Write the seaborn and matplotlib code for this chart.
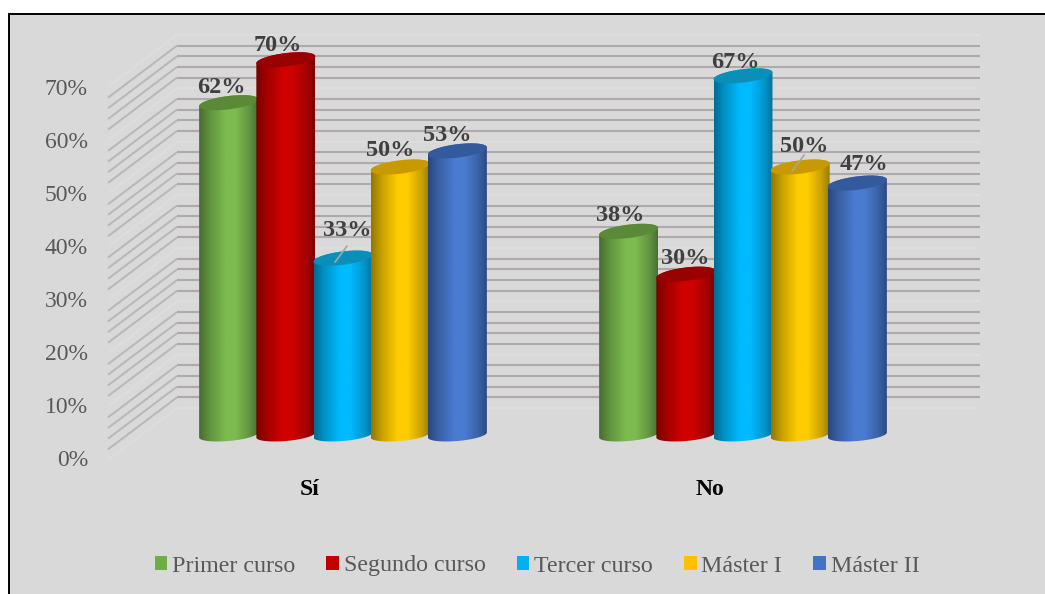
import numpy as np
import pandas as pd
import matplotlib
matplotlib.use("Agg")
import matplotlib.pyplot as plt
from matplotlib.patches import Rectangle, Polygon
from matplotlib.colors import to_rgb
import seaborn as sns

categories = ["Sí", "No"]
courses = ["Primer curso", "Segundo curso", "Tercer curso", "Máster I", "Máster II"]
si_values = [62, 70, 33, 50, 53]
no_values = [38, 30, 67, 50, 47]
colors = ["#70AD47", "#C00000", "#00B0F0", "#FFC000", "#4472C4"]
bright = ["#7CBB50", "#CF0000", "#00BBFF", "#FFCC00", "#4A7BD2"]
tops = ["#5A8A38", "#990000", "#0A8FB8", "#C99A00", "#325A9C"]
tick_values = [0, 10, 20, 30, 40, 50, 60, 70]
tick_labels = ["0%", "10%", "20%", "30%", "40%", "50%", "60%", "70%"]
# label offsets from the bar top centre (pixels), per category and course
label_dx = [[-7, -8, 4, -10, -10], [-8, -1, -8, 4, 7]]
label_dy = [[15, 14, 28, 16, 15], [16, 16, 13, 20, 19]]

W, H = 1045, 594
plt.rcParams["font.family"] = ["Liberation Serif", "DejaVu Serif"]
fig = plt.figure(figsize=(W / 100, H / 100), dpi=100, facecolor="white")
fig.add_artist(Rectangle((8.5 / W, -0.01), 1.02, 1.01 - 13.5 / H, transform=fig.transFigure,
                         facecolor="#D9D9D9", edgecolor="black", linewidth=1.4, zorder=-5))


def axes_px(left, right, top, bottom):
    return fig.add_axes([left / W, 1 - bottom / H, (right - left) / W, (bottom - top) / H])


# back wall and side wall
wall = axes_px(177, 980, 35, 408)
wall.set_xlim(0, 1)
wall.set_ylim(0, 70)
wall.patch.set_alpha(0)
for s in wall.spines.values():
    s.set_visible(False)
wall.set_xticks([])
wall.set_yticks([])
depth_x = -69 / 803
depth_y = -52 / (373 / 70)
for v in range(0, 71, 2):
    major = v % 10 == 0
    back = "#DDDDDD" if major else "#AFA9A9"
    side = "#DDDDDD" if major else "#BAB6B6"
    wall.plot([depth_x, 0], [v + depth_y, v], color=side, lw=1.4, clip_on=False,
              solid_capstyle="butt", zorder=1)
    wall.plot([0, 1], [v, v], color=back, lw=1.5, clip_on=False,
              solid_capstyle="butt", zorder=1)

# front axis labels
front = axes_px(88, 980, 87, 458)
front.patch.set_alpha(0)
front.set_xticks([])
front.set_ylim(0, 70)
front.set_yticks(tick_values)
front.set_yticklabels(tick_labels, fontsize=17, color="#595959")
front.tick_params(axis="y", length=0, pad=0)
for s in front.spines.values():
    s.set_visible(False)

# bars
px_per = 5.36
ax = axes_px(177, 980, 35, 435)
ax.patch.set_alpha(0)
df = pd.DataFrame({
    "grupo": [c for c in categories for _ in courses],
    "curso": courses * 2,
    "valor": si_values + no_values,
})
sns.barplot(data=df, x="grupo", y="valor", hue="curso", order=categories, hue_order=courses,
            palette=colors, width=0.715, gap=0, dodge=True, saturation=1, ax=ax)
xlim = (-166 / 400, (980 - 343) / 400)
ylim = (0, 400 / px_per)
ax.set_xlabel("")
ax.set_ylabel("")
ax.set_yticks([])
for s in ax.spines.values():
    s.set_visible(False)
# category labels sit left of the bar clusters, as in the perspective projection
ax.set_xticks([i - 33 / 400 for i in range(len(categories))], categories)
ax.tick_params(axis="x", length=0, pad=32)
for lbl in ax.get_xticklabels():
    lbl.set_fontsize(17)
    lbl.set_fontweight("bold")
    lbl.set_color("black")

t = np.linspace(0, 2 * np.pi, 121)
ramp = np.interp(np.linspace(0, 1, 256), [0, 0.18, 0.45, 0.62, 0.85, 1], [0.58, 0.78, 1, 1, 0.8, 0.6])
for h, cont in enumerate(ax.containers):
    rgb = np.array(to_rgb(bright[h]))
    img = (ramp[:, None] * rgb)[None, :, :]
    for g, bar in enumerate(cont):
        bar.set_visible(False)
        a = bar.get_width() * 1.03 / 2
        cx = bar.get_x() + bar.get_width() / 2
        top = bar.get_height()
        # lower edge of the base, then up the side and over the top
        tb = np.linspace(np.pi, 2 * np.pi, 60)
        xb = cx + a * np.cos(tb)
        yb = (2.5 * np.cos(tb) + 6 * np.sin(tb)) / px_per
        tt = np.linspace(0, np.pi, 60)
        xt = cx + a * np.cos(tt)
        yt = top + (3.5 * np.cos(tt) + 6.7 * np.sin(tt)) / px_per
        z = 5 + h * 2 + g * 20
        body = Polygon(np.c_[np.r_[xb, xt], np.r_[yb, yt]], closed=True, fc="none", ec="none",
                       transform=ax.transData, clip_on=False)
        ax.add_patch(body)
        im = ax.imshow(img, extent=(cx - a, cx + a, -10, top + 10), aspect="auto", zorder=z,
                       interpolation="bilinear")
        im.set_clip_path(body)
        im.set_clip_box(fig.bbox)
        cap = Polygon(np.c_[cx + a * np.cos(t), top + (3.5 * np.cos(t) + 6.7 * np.sin(t)) / px_per],
                      closed=True, fc=tops[h], ec="none", zorder=z + 1, clip_on=False)
        ax.add_patch(cap)
        ax.annotate(f"{top:.0f}%", (cx, top),
                    xytext=(label_dx[g][h] * 0.72, label_dy[g][h] * 0.72), textcoords="offset points",
                    ha="center", va="center", fontsize=17.5, fontweight="bold", color="#404040",
                    zorder=100, annotation_clip=False)
ax.set_xlim(*xlim)
ax.set_ylim(*ylim)

# leader lines for the two labels lifted off their bars
for g, h in [(0, 2), (1, 3)]:
    bar = ax.containers[h][g]
    cx = bar.get_x() + bar.get_width() / 2
    ax.annotate("", (cx - 8 / 400, bar.get_height() - 4 / px_per),
                xytext=(12 * 0.72, 16 * 0.72), textcoords="offset points",
                arrowprops=dict(arrowstyle="-", color="#A6A6A6", lw=1.2, shrinkA=0, shrinkB=0),
                zorder=99, annotation_clip=False)

handles, labels = ax.get_legend_handles_labels()
leg = ax.legend(handles, labels, loc="center", bbox_to_anchor=(537 / W, 1 - 566 / H),
                bbox_transform=fig.transFigure, ncol=5, frameon=False, fontsize=17.3,
                handlelength=0.52, handleheight=0.52, handletextpad=0.2, columnspacing=1.3,
                labelcolor="#595959", borderpad=0, borderaxespad=0)

fig.savefig("out.png", dpi=100, facecolor=fig.get_facecolor())
